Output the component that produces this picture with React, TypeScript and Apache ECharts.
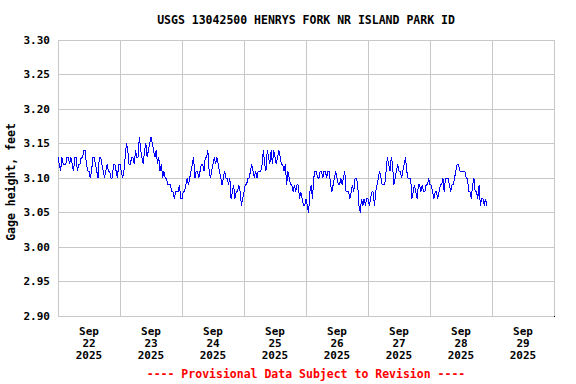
import React, { useEffect, useRef } from "react";
import * as echarts from "echarts";

const TITLE = "USGS 13042500 HENRYS FORK NR ISLAND PARK ID";
const Y_NAME = "Gage height, feet";
const FOOTER = "---- Provisional Data Subject to Revision ----";
const DAY_LABELS = [
  "Sep\n22\n2025",
  "Sep\n23\n2025",
  "Sep\n24\n2025",
  "Sep\n25\n2025",
  "Sep\n26\n2025",
  "Sep\n27\n2025",
  "Sep\n28\n2025",
  "Sep\n29\n2025",
];
const Y_MIN = 2.9;
const Y_MAX = 3.3;
const Y_STEP = 0.05;
const HOURS_SPAN = 192; // Sep 22 00:00 to Sep 30 00:00
const STEP_HOURS = 0.5;

// half-hourly gage height readings (feet), starting Sep 22 00:00
const sep22 = [3.13, 3.12, 3.11, 3.13, 3.12, 3.12, 3.12, 3.13, 3.13, 3.12, 3.13, 3.12, 3.11, 3.13, 3.13, 3.11, 3.12, 3.12, 3.13, 3.13, 3.14, 3.14, 3.12, 3.11, 3.11, 3.10, 3.11, 3.13, 3.13, 3.12, 3.11, 3.10, 3.13, 3.13, 3.12, 3.11, 3.10, 3.11, 3.12, 3.11, 3.11, 3.10, 3.10, 3.12, 3.12, 3.11, 3.10, 3.12];
const sep23 = [3.12, 3.11, 3.10, 3.11, 3.13, 3.15, 3.14, 3.12, 3.12, 3.13, 3.13, 3.12, 3.14, 3.13, 3.13, 3.16, 3.14, 3.13, 3.12, 3.14, 3.15, 3.13, 3.14, 3.15, 3.16, 3.15, 3.14, 3.13, 3.14, 3.12, 3.13, 3.11, 3.12, 3.10, 3.11, 3.10, 3.10, 3.09, 3.09, 3.09, 3.08, 3.08, 3.07, 3.08, 3.08, 3.08, 3.09, 3.07];
const sep24 = [3.07, 3.08, 3.08, 3.09, 3.10, 3.09, 3.10, 3.11, 3.12, 3.13, 3.10, 3.11, 3.11, 3.10, 3.11, 3.12, 3.12, 3.11, 3.13, 3.13, 3.14, 3.11, 3.10, 3.11, 3.12, 3.13, 3.12, 3.13, 3.12, 3.11, 3.10, 3.09, 3.10, 3.11, 3.10, 3.10, 3.09, 3.10, 3.07, 3.08, 3.09, 3.07, 3.08, 3.08, 3.09, 3.08, 3.06, 3.07];
const sep25 = [3.08, 3.09, 3.09, 3.10, 3.10, 3.11, 3.12, 3.11, 3.10, 3.11, 3.10, 3.11, 3.11, 3.11, 3.12, 3.14, 3.12, 3.11, 3.14, 3.13, 3.12, 3.14, 3.12, 3.14, 3.13, 3.12, 3.13, 3.14, 3.13, 3.12, 3.12, 3.11, 3.12, 3.09, 3.11, 3.10, 3.09, 3.09, 3.08, 3.09, 3.08, 3.09, 3.09, 3.07, 3.08, 3.07, 3.06, 3.06];
const sep26 = [3.07, 3.06, 3.05, 3.08, 3.09, 3.07, 3.10, 3.11, 3.11, 3.10, 3.10, 3.11, 3.11, 3.10, 3.11, 3.11, 3.10, 3.11, 3.11, 3.09, 3.08, 3.09, 3.10, 3.11, 3.10, 3.09, 3.09, 3.10, 3.09, 3.10, 3.11, 3.08, 3.08, 3.08, 3.07, 3.08, 3.09, 3.08, 3.10, 3.10, 3.09, 3.06, 3.05, 3.07, 3.06, 3.07, 3.06, 3.07];
const sep27 = [3.07, 3.06, 3.07, 3.08, 3.08, 3.06, 3.08, 3.09, 3.10, 3.11, 3.10, 3.09, 3.09, 3.09, 3.11, 3.13, 3.12, 3.11, 3.13, 3.12, 3.09, 3.10, 3.11, 3.12, 3.11, 3.11, 3.10, 3.11, 3.12, 3.13, 3.11, 3.10, 3.10, 3.10, 3.07, 3.08, 3.09, 3.08, 3.07, 3.09, 3.09, 3.08, 3.09, 3.08, 3.08, 3.09, 3.09, 3.10];
const sep28 = [3.09, 3.09, 3.08, 3.07, 3.08, 3.08, 3.07, 3.08, 3.09, 3.09, 3.10, 3.08, 3.10, 3.10, 3.10, 3.09, 3.08, 3.09, 3.09, 3.10, 3.11, 3.12, 3.12, 3.11, 3.11, 3.11, 3.11, 3.11, 3.10, 3.10, 3.08, 3.08, 3.07, 3.09, 3.10, 3.08, 3.08, 3.07, 3.09, 3.06, 3.07, 3.07, 3.06, 3.07, 3.06];

const gageHeight = [...sep22, ...sep23, ...sep24, ...sep25, ...sep26, ...sep27, ...sep28];

const FONT = "'DejaVu Sans Mono', monospace";

export default function App() {
  const ref = useRef<HTMLDivElement>(null);

  useEffect(() => {
    document.body.style.margin = "0";
    if (!ref.current) return;
    const chart = echarts.init(ref.current, undefined, { renderer: "svg" });
    chart.setOption({
      animation: false,
      backgroundColor: "#ffffff",
      grid: {
        left: 58,
        top: 40,
        width: 496,
        height: 276,
        show: true,
        borderColor: "#000000",
        borderWidth: 1,
        backgroundColor: "transparent",
      },
      xAxis: [
        {
          type: "value",
          min: 0,
          max: HOURS_SPAN,
          interval: 24,
          axisLabel: { show: false },
          axisTick: { show: false },
          axisLine: { show: false },
          splitLine: { show: true, lineStyle: { color: "#c8c8c8", width: 1 } },
        },
        {
          type: "category",
          position: "bottom",
          data: DAY_LABELS,
          boundaryGap: true,
          axisTick: { show: false },
          axisLine: { show: false },
          splitLine: { show: false },
          axisLabel: {
            interval: 0,
            margin: 9,
            color: "#000000",
            fontFamily: FONT,
            fontWeight: "bold",
            fontSize: 11,
            lineHeight: 12,
          },
        },
      ],
      yAxis: {
        type: "value",
        min: Y_MIN,
        max: Y_MAX,
        interval: Y_STEP,
        axisLine: { show: false },
        axisTick: { show: false },
        axisLabel: {
          margin: 8,
          color: "#000000",
          fontFamily: FONT,
          fontWeight: "bold",
          fontSize: 11,
          formatter: (v: number) => v.toFixed(2),
        },
        splitLine: { show: true, lineStyle: { color: "#c8c8c8", width: 1 } },
      },
      graphic: [
        {
          type: "text",
          x: 306,
          y: 20,
          style: {
            text: TITLE,
            fill: "#000000",
            font: `bold 11.5px ${FONT}`,
            textAlign: "center",
            textVerticalAlign: "middle",
          },
        },
        {
          type: "text",
          x: 11,
          y: 182,
          rotation: Math.PI / 2,
          style: {
            text: Y_NAME,
            fill: "#000000",
            font: `bold 11.5px ${FONT}`,
            textAlign: "center",
            textVerticalAlign: "middle",
          },
        },
        {
          type: "text",
          x: 306,
          y: 374,
          style: {
            text: FOOTER,
            fill: "#ff0000",
            font: `bold 11.5px ${FONT}`,
            textAlign: "center",
            textVerticalAlign: "middle",
          },
        },
      ],
      series: [
        {
          type: "line",
          xAxisIndex: 0,
          yAxisIndex: 0,
          data: gageHeight.map((v, i) => [i * STEP_HOURS, v]),
          showSymbol: false,
          symbol: "none",
          lineStyle: { color: "#0000ff", width: 1 },
          itemStyle: { color: "#0000ff" },
          silent: true,
        },
      ],
    });
    return () => chart.dispose();
  }, []);

  return (
    <>
      <style>{`.gh-chart svg path { shape-rendering: crispEdges; }`}</style>
      <div
        ref={ref}
        className="gh-chart"
        style={{ position: "absolute", left: 0, top: 0, width: 576, height: 384, background: "#fff" }}
      />
    </>
  );
}
